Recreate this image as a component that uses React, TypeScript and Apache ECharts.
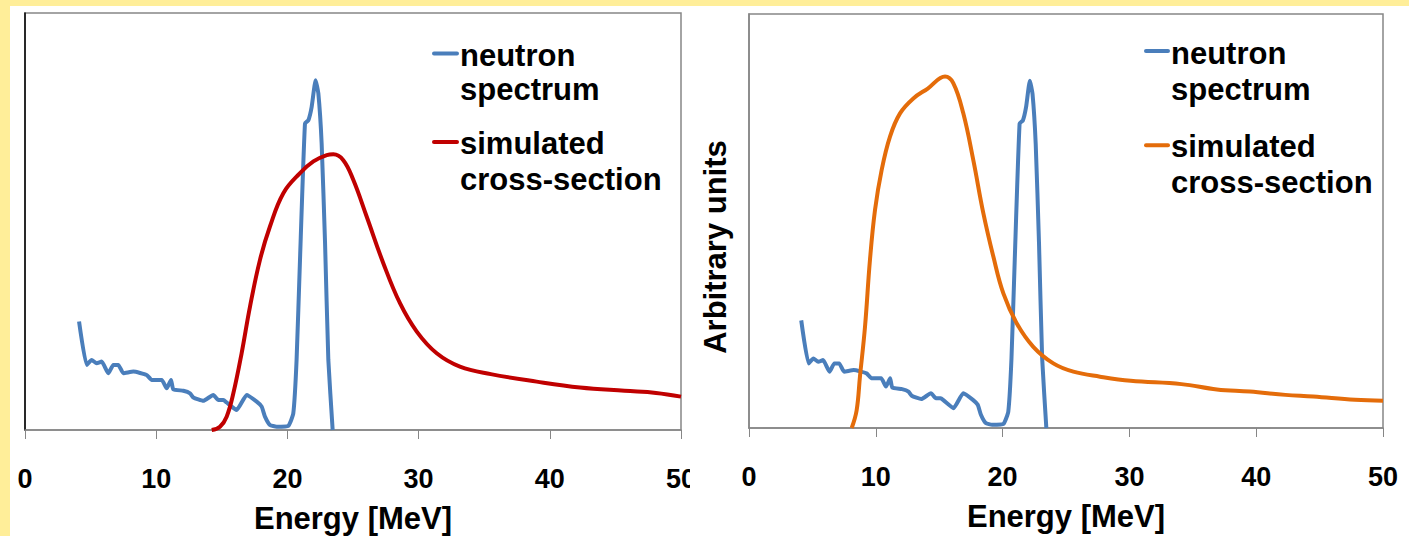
import React, { useEffect, useRef } from "react";
import * as echarts from "echarts";

// ---------- data ----------
const xMin = 0;
const xMax = 50;
const xInterval = 10;

const neutronEnergy = [4.12, 4.7, 5.08, 5.46, 5.84, 6.35, 6.73, 7.11, 7.5, 8.26, 9.27, 9.66, 10.42, 10.8, 11.13, 11.3, 12.07, 12.58, 12.83, 13.59, 14.35, 14.74, 15.12, 15.37, 16.13, 16.9, 17.66, 18.04, 18.29, 18.67, 19.18, 20.07, 20.45, 20.7, 20.96, 21.34, 21.6, 21.85, 22.15, 22.36, 22.61, 22.87, 23.12, 23.45];
const neutronValue = [26.0, 15.6, 16.8, 16.0, 16.4, 13.6, 15.6, 15.6, 13.6, 14.0, 13.2, 12.0, 12.0, 10.0, 12.0, 9.8, 9.4, 8.8, 7.8, 7.0, 8.4, 7.2, 7.2, 6.6, 4.8, 8.4, 6.8, 5.6, 3.2, 1.2, 0.8, 1.0, 4.0, 16.8, 40.8, 73.5, 74.3, 77.5, 83.9, 80.7, 68.7, 44.8, 16.8, 0];

const leftXsEnergy = [14.23, 14.86, 15.37, 15.88, 16.51, 17.15, 17.91, 18.67, 19.69, 20.96, 21.98, 23.0, 23.5, 24.26, 25.02, 26.04, 27.31, 28.58, 29.86, 31.38, 33.15, 35.5, 39.0, 42.3, 45.7, 48.1, 50];
const leftXsValue = [0, 0.8, 3.2, 8.8, 18.4, 29.6, 40.8, 48.8, 56.8, 61.6, 64.4, 65.9, 66.1, 64.7, 60.0, 51.2, 40.0, 30.4, 23.6, 18.4, 15.2, 13.4, 11.6, 10.2, 9.4, 8.9, 8.0];

const rightXsEnergy = [8.1, 8.49, 8.75, 9.15, 9.54, 9.94, 10.46, 11.12, 11.91, 12.96, 14.1, 15.46, 16.11, 16.9, 17.69, 18.48, 19.27, 20.06, 21.11, 22.42, 24.0, 25.58, 27.68, 30.1, 34.1, 36.9, 39.5, 42.3, 44.5, 47.8, 50];
const rightXsValue = [0, 4.3, 12.4, 24.5, 40.6, 52.7, 62.3, 70.4, 76.0, 79.6, 82.0, 84.9, 83.3, 76.0, 64.7, 51.9, 41.4, 32.5, 25.3, 19.6, 15.6, 13.6, 12.4, 11.4, 10.6, 9.3, 8.8, 8.0, 7.6, 6.8, 6.6];

const seriesNames = ["neutron\nspectrum", "simulated\ncross-section"];
const xAxisTitle = "Energy [MeV]";
const yAxisTitle = "Arbitrary units";

// ---------- styles ----------
const FONT = "'Liberation Sans', Arial, sans-serif";
const BLUE = "#4A7EBB";
const RED = "#C00000";
const ORANGE = "#E46C0A";
const GRAY = "#868686";

const pairs = (xs: number[], ys: number[]) => xs.map((x, i) => [x, ys[i]]);

interface PanelCfg {
  grid: { left: number; right: number; top: number; bottom: number };
  yAxisColor: string;
  xsColor: string;
  xsEnergy: number[];
  xsValue: number[];
  legend: { lineX1: number; lineX2: number; textX: number; y1: number; y2: number; y3: number; y4: number };
  yTitle?: { x: number; y: number };
}

function buildOption(cfg: PanelCfg): any {
  const L = cfg.legend;
  const [n1, n2] = seriesNames[0].split("\n");
  const [s1, s2] = seriesNames[1].split("\n");
  const textEl = (t: string, y: number) => ({
    type: "text",
    x: L.textX,
    y,
    style: { text: t, fill: "#000", font: `bold 31px ${FONT}`, align: "left", verticalAlign: "middle" },
  });
  const graphic: any[] = [
    { type: "line", shape: { x1: L.lineX1, y1: L.y1 - 2, x2: L.lineX2, y2: L.y1 - 2 }, style: { stroke: BLUE, lineWidth: 4, lineCap: "round" } },
    textEl(n1, L.y1),
    textEl(n2, L.y2),
    { type: "line", shape: { x1: L.lineX1, y1: L.y3 - 1, x2: L.lineX2, y2: L.y3 - 1 }, style: { stroke: cfg.xsColor, lineWidth: 4, lineCap: "round" } },
    textEl(s1, L.y3),
    textEl(s2, L.y4),
  ];
  if (cfg.yTitle) {
    graphic.push({
      type: "text",
      x: cfg.yTitle.x,
      y: cfg.yTitle.y,
      rotation: Math.PI / 2,
      style: { text: yAxisTitle, fill: "#000", font: `bold 31px ${FONT}`, align: "center", verticalAlign: "middle" },
    });
  }
  return {
    animation: false,
    backgroundColor: "#fff",
    grid: {
      ...cfg.grid,
      show: true,
      borderColor: GRAY,
      borderWidth: 1.5,
      backgroundColor: "transparent",
      containLabel: false,
      outerBoundsMode: "none",
    },
    xAxis: {
      type: "value",
      min: xMin,
      max: xMax,
      interval: xInterval,
      splitLine: { show: false },
      axisLine: { show: true, lineStyle: { color: GRAY, width: 1.5 } },
      axisTick: { show: true, inside: false, length: 9, lineStyle: { color: GRAY, width: 1 } },
      axisLabel: { color: "#000", fontSize: 27, fontWeight: "bold", fontFamily: FONT, margin: 35, showMaxLabel: true, showMinLabel: true, hideOverlap: false },
      name: xAxisTitle,
      nameLocation: "middle",
      nameGap: 73,
      nameTextStyle: { color: "#000", fontSize: 31, lineHeight: 30, fontWeight: "bold", fontFamily: FONT },
    },
    yAxis: {
      type: "value",
      min: 0,
      max: 100,
      splitLine: { show: false },
      axisLine: { show: true, lineStyle: { color: cfg.yAxisColor, width: 1.5 } },
      axisTick: { show: false },
      axisLabel: { show: false },
    },
    series: [
      {
        name: seriesNames[0],
        type: "line",
        data: pairs(neutronEnergy, neutronValue),
        showSymbol: false,
        smooth: 0.15,
        lineStyle: { color: BLUE, width: 4 },
        itemStyle: { color: BLUE },
        clip: false,
      },
      {
        name: seriesNames[1],
        type: "line",
        data: pairs(cfg.xsEnergy, cfg.xsValue),
        showSymbol: false,
        smooth: 0.4,
        lineStyle: { color: cfg.xsColor, width: 4 },
        itemStyle: { color: cfg.xsColor },
        clip: false,
      },
    ],
    graphic,
  };
}

function Panel(props: { cfg: PanelCfg; style: React.CSSProperties }) {
  const ref = useRef<HTMLDivElement>(null);
  useEffect(() => {
    if (!ref.current) return;
    const chart = echarts.init(ref.current, undefined, { renderer: "svg" });
    chart.setOption(buildOption(props.cfg));
    return () => chart.dispose();
  }, []);
  return <div ref={ref} style={{ position: "absolute", overflow: "hidden", ...props.style }} />;
}

const leftCfg: PanelCfg = {
  grid: { left: 15, right: 9, top: 7, bottom: 106 },
  yAxisColor: "#000",
  xsColor: RED,
  xsEnergy: leftXsEnergy,
  xsValue: leftXsValue,
  legend: { lineX1: 424, lineX2: 447, textX: 450, y1: 49.6, y2: 83, y3: 137, y4: 173 },
};

const rightCfg: PanelCfg = {
  grid: { left: 59, right: 26, top: 8, bottom: 108 },
  yAxisColor: GRAY,
  xsColor: ORANGE,
  xsEnergy: rightXsEnergy,
  xsValue: rightXsValue,
  legend: { lineX1: 456, lineX2: 478, textX: 481, y1: 47, y2: 83, y3: 140.3, y4: 176 },
  yTitle: { x: 25, y: 241 },
};

export default function App() {
  return (
    <div style={{ position: "fixed", left: 0, top: 0, width: 1409, height: 536, background: "#FFEE99", overflow: "hidden" }}>
      <div style={{ position: "absolute", left: 10, top: 6, width: 1399, height: 530, background: "#fff" }} />
      <Panel cfg={leftCfg} style={{ left: 10, top: 6, width: 680, height: 530 }} />
      <Panel cfg={rightCfg} style={{ left: 690, top: 6, width: 719, height: 530 }} />
    </div>
  );
}
